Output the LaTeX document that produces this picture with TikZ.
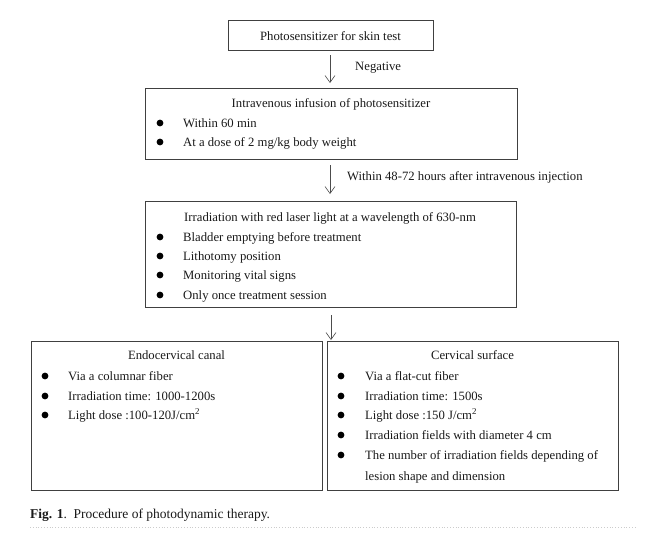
\documentclass[tikz,border=0pt]{standalone}
\usepackage{fontspec}
\setmainfont{Liberation Serif}
\newfontfamily\tnr{Liberation Serif}
\usetikzlibrary{arrows.meta}
\begin{document}
\begin{tikzpicture}[x=1pt,y=-1pt,
  box/.style={draw=black!75, line width=0.9pt, rectangle, inner sep=0pt, anchor=north west},
  txt/.style={anchor=base west, font=\tnr\fontsize{12.7}{14}\selectfont, inner sep=0pt, text=black!90},
  ctr/.style={anchor=base, font=\tnr\fontsize{12.7}{14}\selectfont, inner sep=0pt, text=black!90},
  bul/.style={circle, fill=black, inner sep=0pt, minimum size=6.8pt},
  arr/.style={draw=black!70, line width=0.6pt, -{Straight Barb[length=7pt,width=10pt]}}
]
\useasboundingbox (0,0) rectangle (658,544);

% boxes
\node[box, minimum width=205pt, minimum height=30pt] (b1) at (228,20) {};
\node[box, minimum width=372pt, minimum height=71pt] (b2) at (145,88) {};
\node[box, minimum width=371pt, minimum height=106pt] (b3) at (145,201) {};
\node[box, minimum width=291pt, minimum height=149pt] (b4) at (31,341) {};
\node[box, minimum width=291pt, minimum height=149pt] (b5) at (327,341) {};

% box 1
\node[ctr] (t1) at (330.5,40) {Photosensitizer for skin test};

% arrow 1
\coordinate (a1s) at (330,55);
\coordinate (a1e) at (330,83);
\draw[arr] (a1s) -- (a1e);
\node[txt] (l1) at (355,70) {Negative};

% box 2
\node[ctr] (t2) at (331,107) {Intravenous infusion of photosensitizer};
\node[bul] (b2a) at (160,123) {};
\node[txt] (t2a) at (183,127) {Within 60 min};
\node[bul] (b2b) at (160,142) {};
\node[txt] (t2b) at (183,146) {At a dose of 2 mg/kg body weight};

% arrow 2
\coordinate (a2s) at (330,165);
\coordinate (a2e) at (330,194);
\draw[arr] (a2s) -- (a2e);
\node[txt] (l2) at (347,180) {Within 48-72 hours after intravenous injection};

% box 3
\node[txt] (t3) at (184,221) {Irradiation with red laser light at a wavelength of 630-nm};
\node[bul] (b3a) at (160,237) {};
\node[txt] (t3a) at (183,241) {Bladder emptying before treatment};
\node[bul] (b3b) at (160,256) {};
\node[txt] (t3b) at (183,260) {Lithotomy position};
\node[bul] (b3c) at (160,275) {};
\node[txt] (t3c) at (183,279) {Monitoring vital signs};
\node[bul] (b3d) at (160,295) {};
\node[txt] (t3d) at (183,299) {Only once treatment session};

% arrow 3
\coordinate (a3s) at (331,315);
\coordinate (a3e) at (331,340);
\draw[arr] (a3s) -- (a3e);

% box 4
\node[ctr] (t4) at (176.5,359) {Endocervical canal};
\node[bul] (b4a) at (45,376) {};
\node[txt] (t4a) at (68,380) {Via a columnar fiber};
\node[bul] (b4b) at (45,396) {};
\node[txt] (t4b) at (68,400) {Irradiation time: 1000-1200s};
\node[bul] (b4c) at (45,415) {};
\node[txt] (t4c) at (68,419) {Light dose :100-120J/cm\textsuperscript{2}};

% box 5
\node[ctr] (t5) at (472.5,359) {Cervical surface};
\node[bul] (b5a) at (341,376) {};
\node[txt] (t5a) at (365,380) {Via a flat-cut fiber};
\node[bul] (b5b) at (341,396) {};
\node[txt] (t5b) at (365,400) {Irradiation time: 1500s};
\node[bul] (b5c) at (341,415) {};
\node[txt] (t5c) at (365,419) {Light dose :150 J/cm\textsuperscript{2}};
\node[bul] (b5d) at (341,435) {};
\node[txt] (t5d) at (365,439) {Irradiation fields with diameter 4 cm};
\node[bul] (b5e) at (341,455) {};
\node[txt] (t5e) at (365,459) {The number of irradiation fields depending of};
\node[txt] (t5f) at (365,480) {lesion shape and dimension};

% caption
\node[txt, font=\tnr\fontsize{13.5}{15}\selectfont] (cap) at (30,518) {\textbf{Fig. 1}.\ \ Procedure of photodynamic therapy.};
\coordinate (d1) at (30,527);
\coordinate (d2) at (637,527);
\draw[black!20, dotted, line width=0.8pt] (d1) -- (d2);
\end{tikzpicture}
\end{document}
